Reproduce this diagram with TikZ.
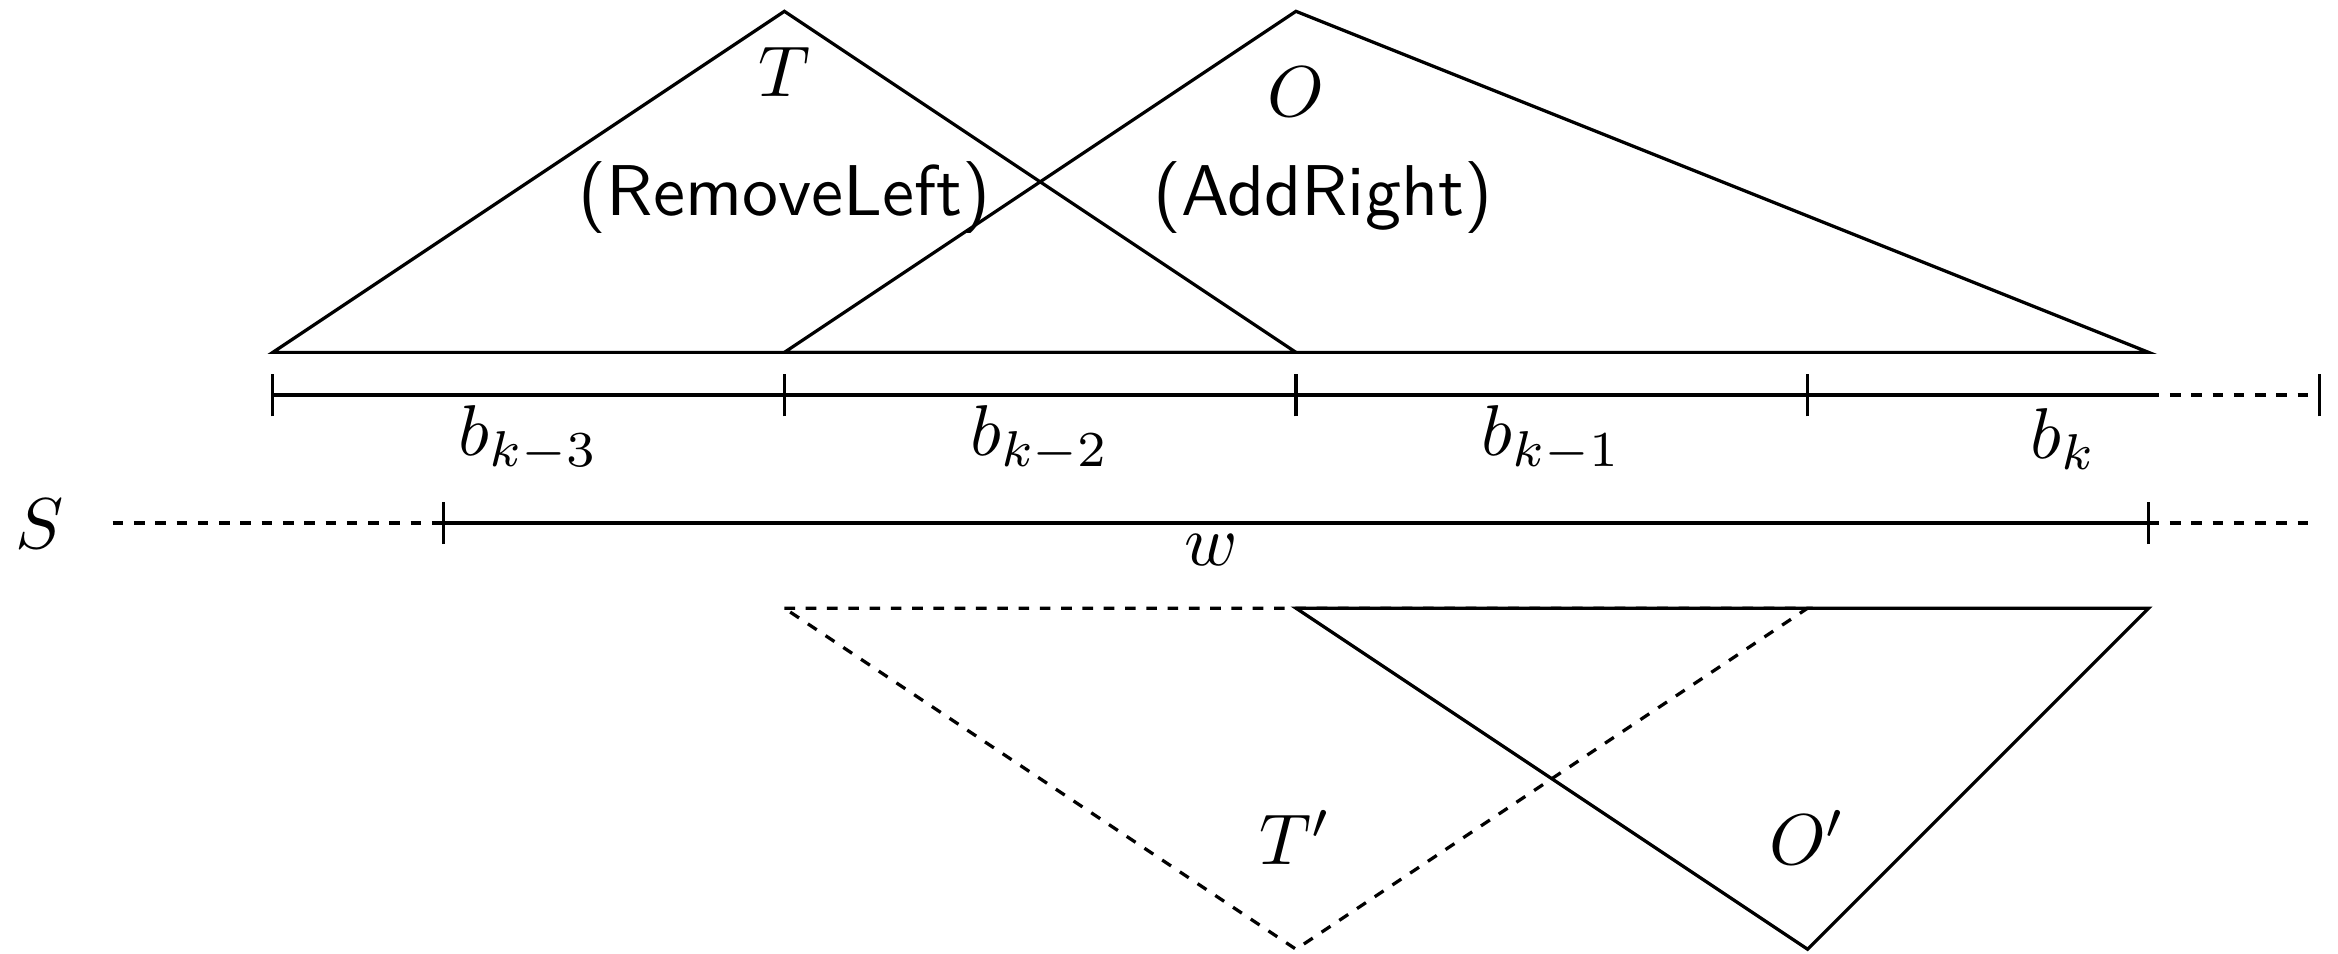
\documentclass[tikz,border=0pt]{standalone}
\begin{document}
\begin{tikzpicture}[x=2.5cm,y=2.5cm,
  ln/.style={line width=0.45pt, line join=miter},
  dsh/.style={ln, dash pattern=on 1.48pt off 1.48pt},
  lbl/.style={inner sep=0pt},
  tick/.style={ln}]
\useasboundingbox (-0.5332,-1.0907) rectangle (4.0368,0.7721);
% coordinates
\coordinate (b0) at (0,0);
\coordinate (b1) at (1,0);
\coordinate (b2) at (2,0);
\coordinate (b3) at (3,0);
\coordinate (be) at (11/3,0);
\coordinate (b4) at (4,0);
\coordinate (t0) at (0,1/12);
\coordinate (t1) at (1,1/12);
\coordinate (t2) at (2,1/12);
\coordinate (te) at (11/3,1/12);
\coordinate (aT) at (1,0.75);
\coordinate (aO) at (2,0.75);
\coordinate (s0) at (-0.313,-0.25);
\coordinate (s1) at (1/3,-0.25);
\coordinate (s2) at (11/3,-0.25);
\coordinate (s3) at (3.99,-0.25);
\coordinate (l1) at (1,-5/12);
\coordinate (l2) at (2,-5/12);
\coordinate (l3) at (3,-5/12);
\coordinate (le) at (11/3,-5/12);
\coordinate (aTp) at (2,-13/12);
\coordinate (aOp) at (3,-13/12);
% top triangles
\draw[ln] (t0) -- (aT) -- (t2) -- cycle;
\draw[ln] (t1) -- (aO) -- (te) -- cycle;
% block line
\draw[ln] (b0) -- (be);
\draw[dsh] (be) -- (b4);
\foreach \c in {b0,b1,b2,b3,b4}
  \draw[tick] ([yshift=-0.104cm]\c) -- ([yshift=0.104cm]\c);
% S line
\draw[dsh] (s0) -- (s1);
\draw[ln] (s1) -- (s2);
\draw[dsh] (s2) -- (s3);
\foreach \c in {s1,s2}
  \draw[tick] ([yshift=-0.104cm]\c) -- ([yshift=0.104cm]\c);
% lower triangles
\draw[dsh] (l1) -- (l3) -- (aTp) -- cycle;
\draw[ln] (l2) -- (le) -- (aOp) -- cycle;
% labels
\node[lbl] (T) at (1,0.632) {$T$};
\node[lbl] (O) at (2,0.592) {$O$};
\node[lbl] (RL) at (1,0.386) {\textsf{(RemoveLeft)}};
\node[lbl] (AR) at (2.052,0.386) {\textsf{(AddRight)}};
\node[lbl] (bk3) at (0.5,-0.086) {$b_{k-3}$};
\node[lbl] (bk2) at (1.5,-0.086) {$b_{k-2}$};
\node[lbl] (bk1) at (2.5,-0.086) {$b_{k-1}$};
\node[lbl] (bk) at (3.5,-0.086) {$b_{k}$};
\node[lbl] (S) at (-0.455,-0.252) {$S$};
\node[lbl] (w) at (11/6,-0.303) {$w$};
\node[lbl] (Tp) at (2,-0.865) {$T'$};
\node[lbl] (Op) at (3,-0.865) {$O'$};
\end{tikzpicture}
\end{document}
